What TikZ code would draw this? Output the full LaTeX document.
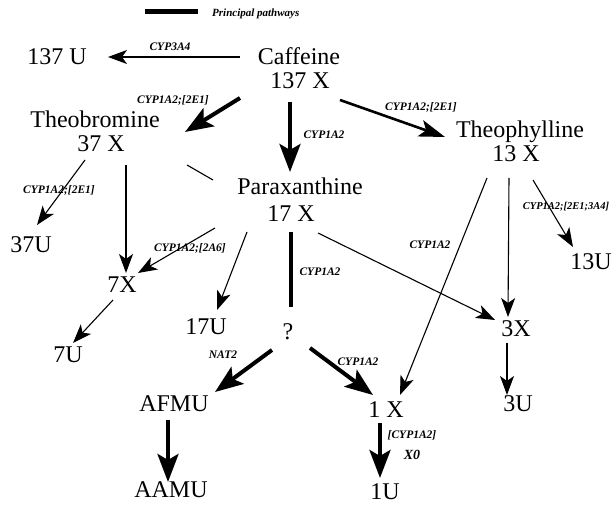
\documentclass[tikz,border=0pt]{standalone}
\usepackage{fontspec}
\setmainfont{Liberation Serif}
\usetikzlibrary{arrows.meta}
\begin{document}
\begin{tikzpicture}[x=1pt,y=-1pt,
  big/.style={font=\fontsize{24}{24}\selectfont, inner sep=0pt, anchor=base},
  lab/.style={font=\fontsize{11.5}{11.5}\selectfont\bfseries\itshape, inner sep=0pt},
  thinarr/.style={line width=1.1pt, -{Stealth[length=19pt,width=14pt,inset=5pt]}},
  thickarr/.style={line width=4pt, -{Stealth[length=28pt,width=21pt,inset=6pt]}},
  medarr/.style={line width=2.6pt, -{Stealth[length=26pt,width=17pt,inset=6pt]}},
  plain/.style={line width=1.1pt},
  thickplain/.style={line width=4.5pt}]
\useasboundingbox (0,0) rectangle (614,510);
% legend
\coordinate (lg1) at (145,12);
\coordinate (lg2) at (198,12);
\draw[line width=5pt] (lg1) -- (lg2);
\node[lab, font=\fontsize{11}{11}\selectfont\bfseries\itshape, anchor=west] (legend) at (212,14) {Principal pathways};
% main nodes
\node[big] (caf) at (299,65) {Caffeine};
\node[big] (caf2) at (300,89) {137 X};
\node[big] (u137) at (57,65) {137 U};
\node[big] (theob) at (95,128) {Theobromine};
\node[big] (theob2) at (101,152) {37 X};
\node[big] (theoph) at (520,138) {Theophylline};
\node[big] (theoph2) at (516,162) {13 X};
\node[big] (para) at (300,195) {Paraxanthine};
\node[big] (para2) at (291,222) {17 X};
\node[big] (u37) at (31,253) {37U};
\node[big] (x7) at (122,293) {7X};
\node[big] (u17) at (206,335) {17U};
\node[big] (q) at (288,340) {?};
\node[big] (u7) at (68,363) {7U};
\node[big] (u13) at (591,270) {13U};
\node[big] (x3) at (516,337) {3X};
\node[big] (u3) at (518,412) {3U};
\node[big] (x1) at (386,418) {1 X};
\node[big] (u1) at (385,500) {1U};
\node[big] (afmu) at (174,412) {AFMU};
\node[big] (aamu) at (171,498) {AAMU};
% connectors
\draw[thinarr] ([shift={(-59,-8)}]caf.base) -- ([shift={(51,-8)}]u137.base);
\draw[thickarr] ([shift={(-60,9)}]caf2.base) -- ([shift={(90,4)}]theob.base);
\draw[thickarr] ([shift={(-10,13)}]caf2.base) -- ([shift={(-10,-23)}]para.base);
\draw[medarr] ([shift={(40,11)}]caf2.base) -- ([shift={(-75,-1)}]theoph.base);
\draw[plain] ([shift={(86,13)}]theob2.base) -- ([shift={(-87,-15)}]para.base);
\draw[thinarr] ([shift={(-16,8)}]theob2.base) -- ([shift={(6,-28)}]u37.base);
\draw[thinarr] ([shift={(25,13)}]theob2.base) -- ([shift={(4,-20)}]x7.base);
\draw[thinarr] ([shift={(-76,6)}]para2.base) -- ([shift={(16,-20)}]x7.base);
\draw[thinarr] ([shift={(-44,10)}]para2.base) -- ([shift={(11,-25)}]u17.base);
\draw[thickplain] ([shift={(0,10)}]para2.base) -- ([shift={(3,-33)}]q.base);
\draw[thinarr] ([shift={(27,11)}]para2.base) -- ([shift={(-21,-17)}]x3.base);
\draw[thinarr] ([shift={(-29,16)}]theoph2.base) -- ([shift={(14,-23)}]x1.base);
\draw[thinarr] ([shift={(-7,16)}]theoph2.base) -- ([shift={(-8,-20)}]x3.base);
\draw[thinarr] ([shift={(17,18)}]theoph2.base) -- ([shift={(-18,-23)}]u13.base);
\draw[thinarr] ([shift={(-9,6)}]x3.base) -- ([shift={(-11,-17)}]u3.base);
\draw[thinarr] ([shift={(-9,7)}]x7.base) -- ([shift={(5,-20)}]u7.base);
\draw[thickarr] ([shift={(-16,10)}]q.base) -- ([shift={(41,-20)}]afmu.base);
\draw[thickarr] ([shift={(22,8)}]q.base) -- ([shift={(-13,-23)}]x1.base);
\draw[thickarr] ([shift={(-6,8)}]afmu.base) -- ([shift={(-3,-16)}]aamu.base);
\draw[thickarr] ([shift={(-6,5)}]x1.base) -- ([shift={(-5,-22)}]u1.base);
% enzyme labels
\node[lab] (l1) at (170,47) {CYP3A4};
\node[lab] (l2) at (173,100) {CYP1A2;[2E1]};
\node[lab] (l3) at (324,135) {CYP1A2};
\node[lab] (l4) at (421,107) {CYP1A2;[2E1]};
\node[lab] (l5) at (59,190) {CYP1A2;[2E1]};
\node[lab] (l6) at (190,248) {CYP1A2;[2A6]};
\node[lab] (l7) at (320,272) {CYP1A2};
\node[lab] (l8) at (430,245) {CYP1A2};
\node[lab, font=\fontsize{10.5}{10.5}\selectfont\bfseries\itshape] (l9) at (566,207) {CYP1A2;[2E1;3A4]};
\node[lab] (l10) at (223,355) {NAT2};
\node[lab] (l11) at (358,362) {CYP1A2};
\node[lab] (l12) at (412,435) {[CYP1A2]};
\node[lab, font=\fontsize{14}{14}\selectfont\bfseries\itshape] (l13) at (412,455) {X0};
\end{tikzpicture}
\end{document}
